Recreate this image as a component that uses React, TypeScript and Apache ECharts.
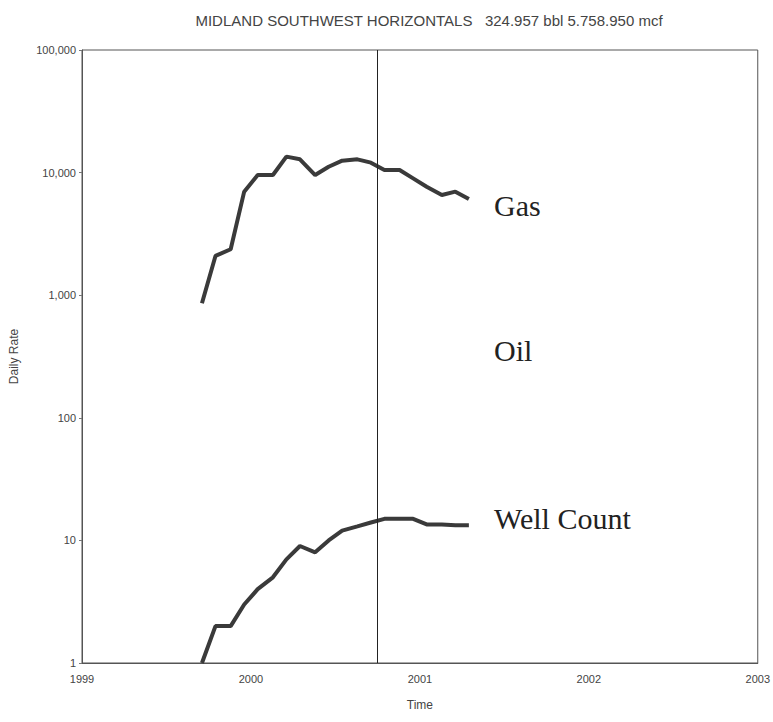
import React, { useEffect, useRef } from "react";
import * as echarts from "echarts";

const title = "MIDLAND SOUTHWEST HORIZONTALS   324.957 bbl 5.758.950 mcf";
const dates = [
  1999.71, 1999.79, 1999.88, 1999.96, 2000.04, 2000.13, 2000.21, 2000.29, 2000.38, 2000.46,
  2000.54, 2000.63, 2000.71, 2000.79, 2000.88, 2000.96, 2001.04, 2001.13, 2001.21, 2001.29,
];
const gas = [
  860, 2090, 2370, 6990, 9550, 9550, 13490, 12830, 9550, 11170,
  12510, 12830, 12050, 10500, 10500, 8980, 7670, 6570, 6990, 6100,
];
const wellCount = [1, 2, 2, 3, 4, 5, 7, 9, 8, 10, 12, 13, 14, 15, 15, 15, 13.5, 13.5, 13.3, 13.3];
const cursorDate = 2000.75;
const xTicks = [1999, 2000, 2001, 2002, 2003];
const annotations = [
  { text: "Gas", x: 494, y: 205 },
  { text: "Oil", x: 494, y: 350 },
  { text: "Well Count", x: 494, y: 518 },
];

export default function App() {
  const ref = useRef<HTMLDivElement>(null);
  useEffect(() => {
    if (!ref.current) return;
    const chart = echarts.init(ref.current, null, { renderer: "svg" });
    const lineColor = "#3a3a3a";
    chart.setOption({
      animation: false,
      backgroundColor: "#ffffff",
      title: {
        text: title,
        left: 424,
        top: 8,
        textAlign: "center",
        textStyle: { fontFamily: "Liberation Sans", fontSize: 15, fontWeight: "normal", color: "#444" },
      },
      grid: { left: 80, right: 11, top: 50, bottom: 59, show: true, borderColor: "#555", borderWidth: 1 },
      xAxis: {
        type: "value",
        min: xTicks[0],
        max: xTicks[xTicks.length - 1],
        interval: 1,
        name: "Time",
        nameLocation: "middle",
        nameGap: 36,
        nameTextStyle: { fontFamily: "Liberation Sans", fontSize: 12, color: "#444" },
        axisLine: { show: true, lineStyle: { color: "#555", width: 1 } },
        axisTick: { show: false },
        splitLine: { show: false },
        axisLabel: {
          fontFamily: "Liberation Sans",
          fontSize: 11,
          color: "#444",
          margin: 10,
          formatter: (v: number) => String(Math.round(v)),
        },
      },
      yAxis: {
        type: "log",
        logBase: 10,
        min: 1,
        max: 100000,
        name: "Daily Rate",
        nameLocation: "middle",
        nameGap: 62,
        nameRotate: 90,
        nameTextStyle: { fontFamily: "Liberation Sans", fontSize: 12, color: "#444" },
        axisLine: { show: true, lineStyle: { color: "#555", width: 1 } },
        axisTick: { show: true, length: 3, lineStyle: { color: "#777" } },
        splitLine: { show: false },
        axisLabel: {
          fontFamily: "Liberation Sans",
          fontSize: 11,
          color: "#444",
          margin: 6,
          formatter: (v: number) => Math.round(v).toLocaleString("en-US"),
        },
      },
      series: [
        {
          name: "Gas",
          type: "line",
          data: dates.map((d, i) => [d, gas[i]]),
          showSymbol: false,
          lineStyle: { color: lineColor, width: 4 },
          markLine: {
            silent: true,
            symbol: ["none", "none"],
            label: { show: false },
            lineStyle: { color: "#222", width: 1, type: "solid" },
            data: [{ xAxis: cursorDate }],
          },
        },
        {
          name: "Well Count",
          type: "line",
          data: dates.map((d, i) => [d, wellCount[i]]),
          showSymbol: false,
          lineStyle: { color: lineColor, width: 4 },
        },
      ],
      graphic: annotations.map((a) => ({
        type: "text",
        x: a.x,
        y: a.y,
        style: {
          text: a.text,
          fontFamily: "Liberation Serif",
          fontSize: 30,
          fill: "#222",
          verticalAlign: "middle",
        },
      })),
    });
    return () => chart.dispose();
  }, []);
  return (
    <div
      ref={ref}
      style={{ position: "absolute", left: 0, top: 0, width: 773, height: 722 }}
    />
  );
}
